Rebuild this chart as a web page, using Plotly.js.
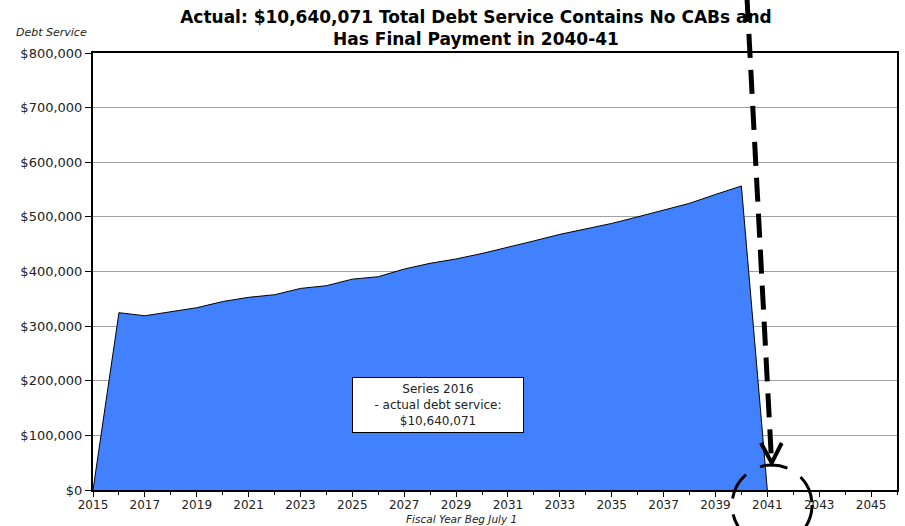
<!DOCTYPE html>
<html>
<head>
<meta charset="utf-8">
<script src="https://cdn.plot.ly/plotly-3.0.1.min.js"></script>
<style>html,body{margin:0;padding:0;background:#fff;}#chart{width:905px;height:526px;}</style>
</head>
<body>
<div id="chart"></div>
<script>
const years = [2015,2016,2017,2018,2019,2020,2021,2022,2023,2024,2025,2026,2027,2028,2029,2030,2031,2032,2033,2034,2035,2036,2037,2038,2039,2040,2041];
const debtService = [0,324600,319000,326000,333700,345000,352700,357500,369000,374000,386000,390500,404500,415000,423000,433000,444000,456000,468000,478000,488000,500000,512500,524800,541000,556500,0];
const xTickVals = [2015,2017,2019,2021,2023,2025,2027,2029,2031,2033,2035,2037,2039,2041,2043,2045];
const yTickVals = [0,100000,200000,300000,400000,500000,600000,700000,800000];
const yTickText = ['$0','$100,000','$200,000','$300,000','$400,000','$500,000','$600,000','$700,000','$800,000'];

const FONT = 'DejaVu Sans, sans-serif';
const trace = {
  x: years, y: debtService, type: 'scatter', mode: 'lines',
  fill: 'tozeroy', fillcolor: '#4181fd',
  line: {color: '#000', width: 1},
  hoverinfo: 'skip', showlegend: false
};

const layout = {
  width: 905, height: 526,
  margin: {l: 93, r: 8, t: 53, b: 36},
  paper_bgcolor: '#fff', plot_bgcolor: '#fff',
  font: {family: FONT, color: '#222', size: 13},
  title: {
    text: 'Actual: $10,640,071 Total Debt Service Contains No CABs and<br>Has Final Payment in 2040-41',
    x: 476/905, xanchor: 'center', yref: 'container', y: 0.957, yanchor: 'top',
    font: {family: FONT, size: 17, color: '#000', weight: 'bold'}
  },
  xaxis: {
    range: [2015, 2046], tickvals: xTickVals, ticks: 'outside', ticklen: 5, tickcolor: '#000',
    ticklabelstandoff: -2,
    showline: true, linecolor: '#000', linewidth: 2, mirror: true, showgrid: false, zeroline: false,
    tickfont: {family: FONT, size: 12, color: '#222'},
    minor: {dtick: 1, ticks: 'outside', ticklen: 3, tickcolor: '#000', showgrid: false}
  },
  yaxis: {
    range: [0, 800000], tickvals: yTickVals, ticktext: yTickText, ticks: 'outside', ticklen: 6, tickcolor: '#000',
    showline: true, linecolor: '#000', linewidth: 2, mirror: true,
    showgrid: true, gridcolor: '#a0a0a0', gridwidth: 1, zeroline: false,
    tickfont: {family: FONT, size: 13, color: '#222'}
  },
  annotations: [
    {xref: 'paper', yref: 'paper', x: (14-93)/804, y: (490-32)/437, xanchor: 'left', yanchor: 'middle',
     text: '<i>Debt Service</i>', showarrow: false, font: {family: FONT, size: 11, color: '#222'}},
    {xref: 'paper', yref: 'paper', x: (461-93)/804, y: (490-527)/437, xanchor: 'center', yanchor: 'bottom',
     text: '<i>Fiscal Year Beg July 1</i>', showarrow: false, font: {family: FONT, size: 10.5, color: '#222'}},
    {xref: 'x', yref: 'y', x: 2028.3, y: 155600, xanchor: 'center', yanchor: 'middle',
     text: 'Series 2016<br>- actual debt service:<br>$10,640,071', showarrow: false,
     bgcolor: '#fff', bordercolor: '#000', borderwidth: 1, width: 168, height: 52,
     font: {family: FONT, size: 12, color: '#222'}}
  ],
  shapes: [
    {type: 'line', xref: 'paper', yref: 'paper', layer: 'above',
     x0: (747-93)/804, y0: (490+2)/437, x1: (771.5-93)/804, y1: (490-461)/437,
     line: {color: '#000', width: 5, dash: '24px,12px'}},
    {type: 'path', xref: 'paper', yref: 'paper', layer: 'above',
     path: 'M ' + ((761-93)/804) + ' ' + ((490-443)/437) + ' L ' + ((771.7-93)/804) + ' ' + ((490-463)/437) + ' L ' + ((781.7-93)/804) + ' ' + ((490-443)/437),
     line: {color: '#000', width: 4}},
    {type: 'circle', xref: 'paper', yref: 'paper', layer: 'above',
     x0: (732-93)/804, x1: (812-93)/804, y0: (490-545)/437, y1: (490-465)/437,
     line: {color: '#000', width: 3, dash: '28px,16px'}}
  ]
};

Plotly.newPlot('chart', [trace], layout, {staticPlot: true, displayModeBar: false});
</script>
</body>
</html>
